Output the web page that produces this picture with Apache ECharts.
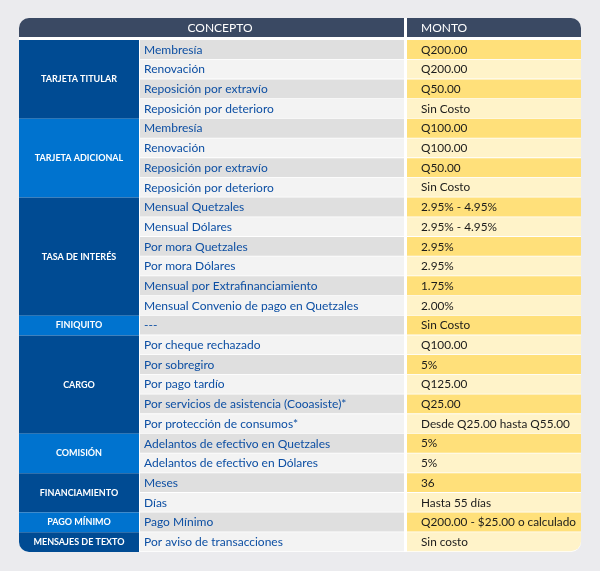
<!DOCTYPE html>
<html>
<head>
<meta charset="utf-8">
<script src="https://cdn.jsdelivr.net/npm/echarts@6/dist/echarts.min.js"></script>
<style>
  html, body { margin: 0; padding: 0; background: #ebebee; }
  #chart { width: 600px; height: 571px; }
</style>
</head>
<body>
<div id="chart"></div>
<script>
const headers = ['CONCEPTO', 'MONTO']
const groups = ['TARJETA TITULAR', 'TARJETA ADICIONAL', 'TASA DE INTERÉS', 'FINIQUITO', 'CARGO',
  'COMISIÓN', 'FINANCIAMIENTO', 'PAGO MÍNIMO', 'MENSAJES DE TEXTO']
const groupSizes = [4, 4, 6, 1, 5, 2, 2, 1, 1]
const concepts = [
  'Membresía', 'Renovación', 'Reposición por extravío', 'Reposición por deterioro',
  'Membresía', 'Renovación', 'Reposición por extravío', 'Reposición por deterioro',
  'Mensual Quetzales', 'Mensual Dólares', 'Por mora Quetzales', 'Por mora Dólares',
  'Mensual por Extrafinanciamiento', 'Mensual Convenio de pago en Quetzales',
  '---',
  'Por cheque rechazado', 'Por sobregiro', 'Por pago tardío',
  'Por servicios de asistencia (Cooasiste)*', 'Por protección de consumos*',
  'Adelantos de efectivo en Quetzales', 'Adelantos de efectivo en Dólares',
  'Meses', 'Días',
  'Pago Mínimo',
  'Por aviso de transacciones'
]
const montos = [
  'Q200.00', 'Q200.00', 'Q50.00', 'Sin Costo',
  'Q100.00', 'Q100.00', 'Q50.00', 'Sin Costo',
  '2.95% - 4.95%', '2.95% - 4.95%', '2.95%', '2.95%', '1.75%', '2.00%',
  'Sin Costo',
  'Q100.00', '5%', 'Q125.00', 'Q25.00', 'Desde Q25.00 hasta Q55.00',
  '5%', '5%',
  '36', 'Hasta 55 días',
  'Q200.00 - $25.00 o calculado',
  'Sin costo'
]

// layout (pixels)
const X0 = 19, X1 = 139, X2 = 140, X3 = 404, X4 = 407, X5 = 581
const FONT = 'Lato, "Noto Sans", sans-serif'

const groupData = []
let start = 0
groups.forEach((g, i) => {
  groupData.push([start, start + groupSizes[i], g, i])
  start += groupSizes[i]
})
const rowData = concepts.map((c, i) => [i, c, montos[i]])
const nRows = concepts.length

const chart = echarts.init(document.getElementById('chart'))
chart.setOption({
  animation: false,
  backgroundColor: '#ebebee',
  grid: { left: 0, right: 0, top: 40, bottom: 19 },
  xAxis: { type: 'value', min: 0, max: 600, show: false },
  yAxis: { type: 'value', min: 0, max: nRows, inverse: true, show: false },
  graphic: [
    { type: 'rect', shape: { x: X0, y: 37, width: X5 - X0, height: 515, r: [0, 0, 10, 10] }, style: { fill: '#ffffff' } },
    { type: 'rect', shape: { x: X0, y: 18, width: X5 - X0, height: 19, r: [10, 10, 0, 0] }, style: { fill: '#3a4963' } },
    { type: 'rect', shape: { x: X3, y: 18, width: X4 - X3, height: 19 }, style: { fill: '#ffffff' } },
    { type: 'text', x: 220, y: 28, style: { text: headers[0], fill: '#ffffff', font: '12px ' + FONT, align: 'center', verticalAlign: 'middle' } },
    { type: 'text', x: 421, y: 28, style: { text: headers[1], fill: '#ffffff', font: '12px ' + FONT, align: 'left', verticalAlign: 'middle' } }
  ],
  series: [
    {
      type: 'custom',
      data: rowData,
      renderItem: (params, api) => {
        const i = api.value(0)
        const y0 = api.coord([0, i])[1]
        const y1 = api.coord([0, i + 1])[1]
        const dark = i % 2 === 0
        const last = i === nRows - 1
        const mid = (y0 + y1) / 2
        return {
          type: 'group',
          children: [
            { type: 'rect', shape: { x: X2, y: y0, width: X3 - X2, height: y1 - y0 - 0.8 },
              style: { fill: dark ? '#dfdfdf' : '#f3f3f3' } },
            { type: 'rect', shape: { x: X4, y: y0, width: X5 - X4, height: y1 - y0 - 0.8, r: last ? [0, 0, 10, 0] : 0 },
              style: { fill: dark ? '#ffe07a' : '#fff3c9' } },
            { type: 'text', x: 144, y: mid, style: { text: rowData[i][1], fill: '#0d4fa3', font: '12px ' + FONT, verticalAlign: 'middle' } },
            { type: 'text', x: 421, y: mid, style: { text: rowData[i][2], fill: '#1b1b1b', font: '11.8px ' + FONT, verticalAlign: 'middle' } }
          ]
        }
      }
    },
    {
      type: 'custom',
      data: groupData,
      renderItem: (params, api) => {
        const y0 = api.coord([0, api.value(0)])[1]
        const y1 = api.coord([0, api.value(1)])[1]
        const k = api.value(3)
        const last = k === groups.length - 1
        return {
          type: 'group',
          children: [
            { type: 'rect', shape: { x: X0, y: y0, width: X1 - X0, height: y1 - y0, r: last ? [0, 0, 0, 10] : 0 },
              style: { fill: k % 2 === 0 ? '#004b93' : '#0073cf' } },
            { type: 'text', x: (X0 + X1) / 2, y: (y0 + y1) / 2,
              style: { text: groupData[k][2], fill: '#ffffff', font: 'bold 9px ' + FONT, align: 'center', verticalAlign: 'middle' } }
          ]
        }
      }
    }
  ]
})
</script>
</body>
</html>
